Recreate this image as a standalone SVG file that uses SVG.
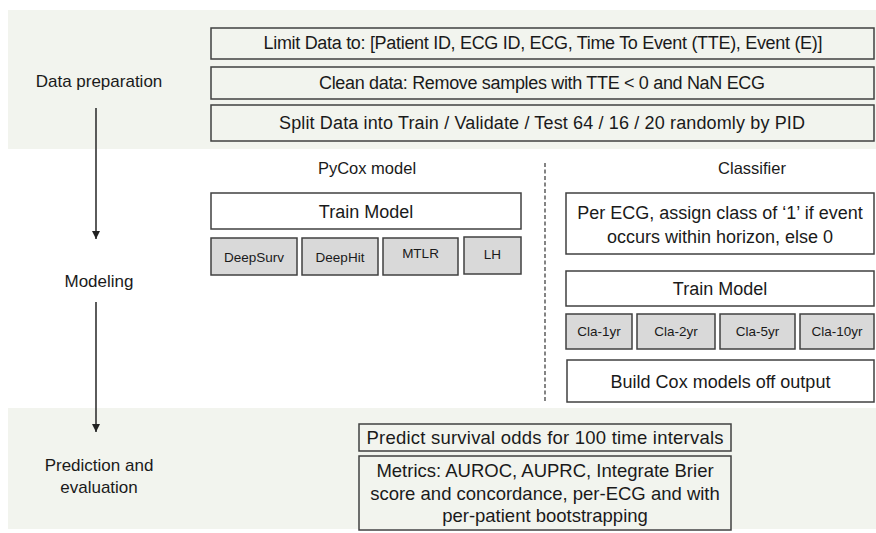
<svg xmlns="http://www.w3.org/2000/svg" width="876" height="533" viewBox="0 0 876 533">
<style>
text{font-family:"Liberation Sans",Arial,sans-serif;fill:#1a1a1a;text-anchor:middle}
.band{fill:#f2f4ee;stroke:none}
.box{fill:none;stroke:#404040;stroke-width:1.5}
.wbox{fill:#ffffff;stroke:#404040;stroke-width:1.5}
.gbox{fill:#d9d9d9;stroke:#404040;stroke-width:1.5}
.t18{font-size:18px}
.t185{font-size:18.5px}
.t17{font-size:17px}
.t165{font-size:16.5px}
.t14{font-size:13.5px}
.arrow{stroke:#333;stroke-width:1.6;fill:none}
</style>
<defs>
<marker id="ah" viewBox="0 0 10 10" refX="10" refY="5" markerWidth="5" markerHeight="5" orient="auto" markerUnits="strokeWidth">
<path d="M0,0 L10,5 L0,10 z" fill="#222"/>
</marker>
</defs>
<rect class="band" x="8" y="10" width="868" height="139"/>
<rect class="band" x="8" y="408" width="868" height="121"/>

<g id="label-data-prep"><text class="t17" x="99" y="87">Data preparation</text></g>
<g id="label-modeling"><text class="t17" x="99" y="287">Modeling</text></g>
<g id="label-prediction"><text class="t17" x="99" y="471">Prediction and</text><text class="t17" x="99" y="493">evaluation</text></g>

<g id="limit-data"><rect class="box" x="211" y="28" width="663" height="31"/><text class="t18" x="543" y="49" textLength="559">Limit Data to: [Patient ID, ECG ID, ECG, Time To Event (TTE), Event (E)]</text></g>
<g id="clean-data"><rect class="box" x="211" y="67" width="663" height="32"/><text class="t18" x="542" y="88.5" textLength="446">Clean data: Remove samples with TTE &lt; 0 and NaN ECG</text></g>
<g id="split-data"><rect class="box" x="211" y="105" width="663" height="36"/><text class="t18" x="542" y="128.5" textLength="526">Split Data into Train / Validate / Test 64 / 16 / 20 randomly by PID</text></g>

<g id="pycox-title"><text class="t165" x="367" y="174">PyCox model</text></g>
<g id="pycox-train"><rect class="wbox" x="211" y="193" width="310" height="36"/><text class="t18" x="366" y="217.5">Train Model</text></g>
<g id="deepsurv"><rect class="gbox" x="211" y="238" width="86" height="37"/><text class="t14" x="254" y="261.5">DeepSurv</text></g>
<g id="deephit"><rect class="gbox" x="302" y="238" width="76" height="37"/><text class="t14" x="340" y="261.5">DeepHit</text></g>
<g id="mtlr"><rect class="gbox" x="383" y="238" width="75" height="37"/><text class="t14" x="420.5" y="258">MTLR</text></g>
<g id="lh"><rect class="gbox" x="464" y="237" width="57" height="37"/><text class="t14" x="492.5" y="259">LH</text></g>

<g id="classifier-title"><text class="t165" x="752" y="174">Classifier</text></g>
<g id="assign-class"><rect class="wbox" x="566" y="193" width="308" height="61"/><text class="t18" x="720" y="218.5">Per ECG, assign class of ‘1’ if event</text><text class="t18" x="720" y="242.5">occurs within horizon, else 0</text></g>
<g id="cla-train"><rect class="wbox" x="566" y="271" width="308" height="35"/><text class="t18" x="720" y="295">Train Model</text></g>
<g id="cla-1yr"><rect class="gbox" x="566" y="314" width="66" height="35"/><text class="t14" x="599" y="335.5">Cla-1yr</text></g>
<g id="cla-2yr"><rect class="gbox" x="637" y="314" width="78" height="35"/><text class="t14" x="676" y="335.5">Cla-2yr</text></g>
<g id="cla-5yr"><rect class="gbox" x="720" y="314" width="75" height="35"/><text class="t14" x="757.5" y="335.5">Cla-5yr</text></g>
<g id="cla-10yr"><rect class="gbox" x="800" y="314" width="74" height="35"/><text class="t14" x="837" y="335.5">Cla-10yr</text></g>
<g id="build-cox"><rect class="wbox" x="567" y="360" width="307" height="42"/><text class="t18" x="720.5" y="387.5">Build Cox models off output</text></g>

<g id="predict"><rect class="box" x="359" y="424" width="372" height="27"/><text class="t185" x="545" y="444" textLength="357">Predict survival odds for 100 time intervals</text></g>
<g id="metrics"><rect class="box" x="359" y="456" width="372" height="74"/><text class="t185" x="545" y="477">Metrics: AUROC, AUPRC, Integrate Brier</text><text class="t185" x="545" y="499.5">score and concordance, per-ECG and with</text><text class="t185" x="545" y="522">per-patient bootstrapping</text></g>

<g id="connectors">
<line class="arrow" x1="96" y1="108" x2="96" y2="239" marker-end="url(#ah)"/>
<line class="arrow" x1="96" y1="302" x2="96" y2="432" marker-end="url(#ah)"/>
<line x1="545" y1="163" x2="545" y2="402" stroke="#333" stroke-width="1.2" stroke-dasharray="4 2.5"/>
</g>
</svg>
